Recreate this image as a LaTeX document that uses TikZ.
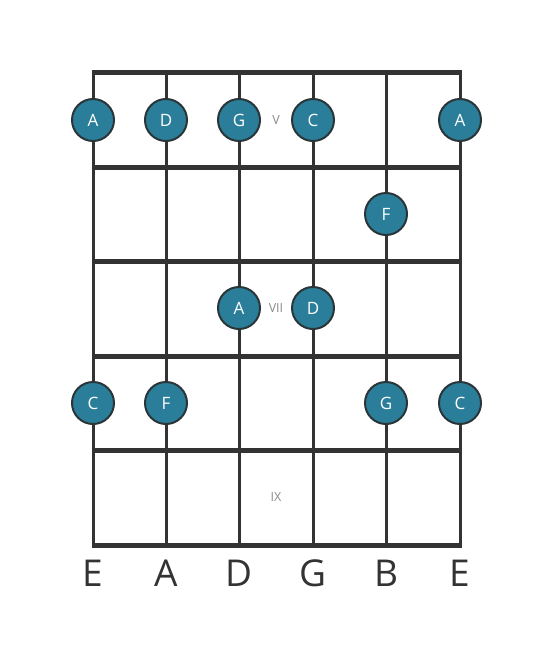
\documentclass[tikz,border=0pt]{standalone}
\usepackage{fontspec}
\setmainfont{Open Sans}
\definecolor{dotfill}{HTML}{2B7E99}
\definecolor{dotline}{HTML}{2A3539}
\definecolor{gridline}{HTML}{333333}
\definecolor{numgray}{HTML}{8A8A8A}
\begin{document}
\begin{tikzpicture}[x=1pt,y=-1pt,
  fretline/.style={gridline,line width=5pt},
  stringline/.style={gridline,line width=3pt},
  notedot/.style={circle,fill=dotfill,draw=dotline,line width=2pt,minimum size=42pt,inner sep=0pt,text=white,font=\fontsize{17}{17}\selectfont},
  fretnum/.style={text=numgray,font=\fontsize{12.5}{12.5}\selectfont},
  stringname/.style={text=gridline,font=\fontsize{37}{37}\selectfont}]
\useasboundingbox (0,0) rectangle (553,656);
\foreach \x/\n in {93/s1,166/s2,239/s3,313/s4,386/s5,460/s6}{
  \coordinate (\n t) at (\x,72);
  \coordinate (\n b) at (\x,545);
  \draw[stringline] (\n t) -- (\n b);
}
\foreach \y/\n in {72/f0,167/f1,261/f2,356/f3,450/f4,545/f5}{
  \coordinate (\n l) at (91.5,\y);
  \coordinate (\n r) at (461.5,\y);
  \draw[fretline] (\n l) -- (\n r);
}
\node[fretnum] (nV) at (276,120) {V};
\node[fretnum] (nVII) at (276,308) {VII};
\node[fretnum] (nIX) at (276,497) {IX};
\node[notedot] (d1) at (93,120) {A};
\node[notedot] (d2) at (166,120) {D};
\node[notedot] (d3) at (239,120) {G};
\node[notedot] (d4) at (313,120) {C};
\node[notedot] (d5) at (460,120) {A};
\node[notedot] (d6) at (386,214) {F};
\node[notedot] (d7) at (239,308) {A};
\node[notedot] (d8) at (313,308) {D};
\node[notedot] (d9) at (93,403) {C};
\node[notedot] (d10) at (166,403) {F};
\node[notedot] (d11) at (386,403) {G};
\node[notedot] (d12) at (460,403) {C};
\node[stringname] (l1) at (93,573) {E};
\node[stringname] (l2) at (166,573) {A};
\node[stringname] (l3) at (239,573) {D};
\node[stringname] (l4) at (313,573) {G};
\node[stringname] (l5) at (386,573) {B};
\node[stringname] (l6) at (460,573) {E};
\end{tikzpicture}
\end{document}
